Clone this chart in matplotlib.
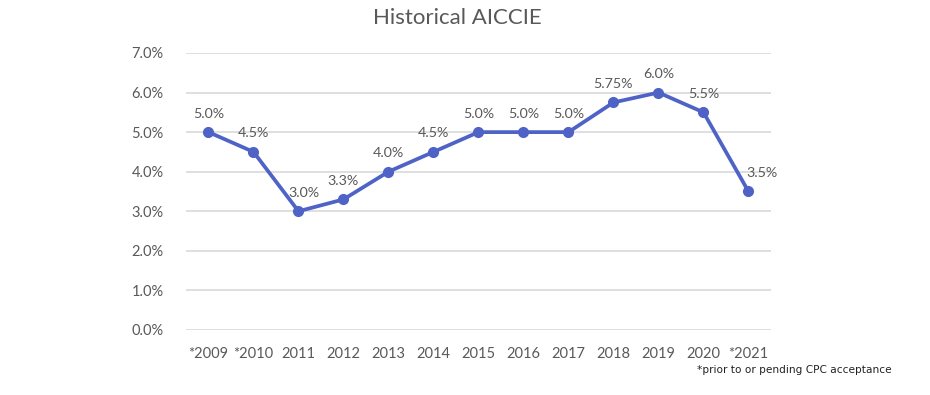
import matplotlib
matplotlib.use("Agg")
import matplotlib.pyplot as plt

years = ["*2009", "*2010", "2011", "2012", "2013", "2014", "2015",
         "2016", "2017", "2018", "2019", "2020", "*2021"]
rates = [5.0, 4.5, 3.0, 3.3, 4.0, 4.5, 5.0, 5.0, 5.0, 5.75, 6.0, 5.5, 3.5]
point_labels = ["5.0%", "4.5%", "3.0%", "3.3%", "4.0%", "4.5%", "5.0%",
                "5.0%", "5.0%", "5.75%", "6.0%", "5.5%", "3.5%"]
yticks = [0, 1, 2, 3, 4, 5, 6, 7]

plt.rcParams['font.family'] = ['Lato', 'DejaVu Sans']
grey = "#595959"
blue = "#4F63C6"

# labels nudged sideways where the line would cross them (points)
label_dx = {2: 3.6, 12: 9.4}

fig = plt.figure(figsize=(9.3, 3.95), dpi=100)
ax = fig.add_axes([0.2, 0.1646, 0.629, 0.7013])

x = list(range(len(years)))
ax.plot(x, rates, color=blue, lw=2.7, marker="o", markersize=7, zorder=3,
        solid_joinstyle="round")
for xi, yi, lab in zip(x, rates, point_labels):
    ax.annotate(lab, (xi, yi), xytext=(label_dx.get(xi, 0), 9),
                textcoords="offset points",
                ha="center", va="bottom", fontsize=10.3, color=grey)

ax.set_xlim(-0.5, len(years) - 0.5)
ax.set_ylim(0, 7)
ax.set_yticks(yticks)
ax.set_yticklabels([f"{v:.1f}%" for v in yticks])
ax.set_xticks(x)
ax.set_xticklabels(years)
ax.tick_params(axis="both", length=0, labelsize=10.5, labelcolor=grey)
ax.tick_params(axis="x", pad=12)
ax.tick_params(axis="y", pad=16)
ax.grid(axis="y", color="#D9D9D9", lw=1.2)
ax.set_axisbelow(True)
for s in ax.spines.values():
    s.set_visible(False)

fig.text(0.492, 0.955, "Historical AICCIE", ha="center", va="center",
         fontsize=16, color=grey)
fig.text(0.749, 0.063, "*prior to or pending CPC acceptance", ha="left",
         va="center", fontsize=7.6, color="#222222", family="DejaVu Sans")

fig.savefig("out.png", dpi=100)
